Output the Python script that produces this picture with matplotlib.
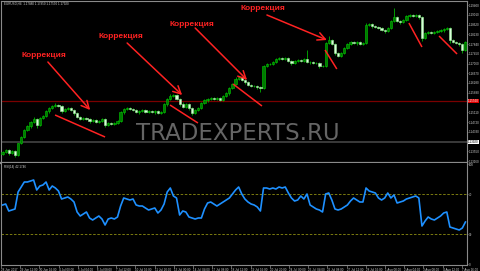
import matplotlib
matplotlib.use("Agg")
import matplotlib.pyplot as plt
import numpy as np

# ---------------- data ----------------
first_open = 1.1344
closes = [
    1.1352, 1.1360, 1.1348, 1.1356, 1.1340, 1.1388, 1.1412, 1.1440, 1.1456, 1.1472,
    1.1484, 1.1460, 1.1488, 1.1496, 1.1516, 1.1528, 1.1536, 1.1540, 1.1536, 1.1516,
    1.1524, 1.1528, 1.1520, 1.1508, 1.1492, 1.1484, 1.1488, 1.1484, 1.1476, 1.1480,
    1.1472, 1.1476, 1.1484, 1.1460, 1.1468, 1.1464, 1.1468, 1.1476, 1.1512, 1.1524,
    1.1528, 1.1524, 1.1520, 1.1512, 1.1516, 1.1520, 1.1512, 1.1516, 1.1512, 1.1516,
    1.1508, 1.1512, 1.1544, 1.1564, 1.1576, 1.1580, 1.1564, 1.1544, 1.1532, 1.1544,
    1.1528, 1.1508, 1.1520, 1.1528, 1.1548, 1.1560, 1.1564, 1.1568, 1.1564, 1.1568,
    1.1560, 1.1576, 1.1588, 1.1608, 1.1624, 1.1644, 1.1652, 1.1640, 1.1632, 1.1620,
    1.1616, 1.1616, 1.1612, 1.1608, 1.1696, 1.1704, 1.1704, 1.1712, 1.1724, 1.1728,
    1.1724, 1.1728, 1.1716, 1.1708, 1.1716, 1.1720, 1.1716, 1.1724, 1.1712, 1.1712,
    1.1708, 1.1708, 1.1696, 1.1696, 1.1788, 1.1800, 1.1784, 1.1748, 1.1736, 1.1748,
    1.1768, 1.1784, 1.1792, 1.1788, 1.1792, 1.1784, 1.1788, 1.1860, 1.1864, 1.1856,
    1.1852, 1.1848, 1.1840, 1.1836, 1.1848, 1.1876, 1.1892, 1.1876, 1.1872, 1.1880,
    1.1896, 1.1900, 1.1896, 1.1900, 1.1892, 1.1808, 1.1828, 1.1832, 1.1828, 1.1832,
    1.1836, 1.1840, 1.1844, 1.1848, 1.1800, 1.1792, 1.1788, 1.1784, 1.1760, 1.1792,
]
# wick lengths in pips above/below the body
wick_up = [
    4, 6, 3, 5, 4, 2, 6, 3, 5, 4,
    7, 3, 5, 4, 6, 3, 5, 8, 4, 3,
    5, 4, 6, 3, 4, 5, 3, 6, 4, 5,
    3, 4, 6, 5, 3, 4, 5, 3, 6, 4,
    5, 3, 4, 6, 3, 5, 4, 3, 5, 4,
    3, 6, 5, 4, 7, 5, 4, 3, 8, 5,
    4, 3, 5, 4, 6, 3, 5, 4, 3, 5,
    4, 6, 3, 5, 4, 7, 5, 3, 4, 5,
    3, 4, 5, 3, 6, 4, 5, 3, 4, 6,
    5, 3, 4, 5, 3, 4, 6, 5, 36, 3,
    4, 5, 3, 4, 6, 16, 5, 4, 3, 5,
    4, 3, 5, 6, 4, 3, 5, 7, 4, 3,
    5, 4, 3, 6, 4, 5, 36, 4, 3, 5,
    4, 6, 3, 5, 4, 3, 5, 4, 6, 3,
    4, 5, 3, 6, 4, 3, 5, 4, 3, 5,
]
wick_dn = [
    5, 3, 6, 4, 8, 2, 4, 5, 3, 6,
    4, 12, 3, 5, 4, 6, 3, 4, 5, 8,
    4, 5, 3, 6, 4, 3, 5, 4, 6, 3,
    5, 4, 3, 8, 4, 5, 3, 4, 5, 6,
    3, 4, 5, 3, 6, 4, 3, 5, 4, 6,
    5, 4, 3, 6, 4, 5, 3, 6, 5, 4,
    8, 6, 4, 5, 3, 4, 6, 3, 5, 4,
    3, 5, 4, 6, 3, 4, 5, 4, 6, 3,
    5, 4, 6, 16, 4, 5, 3, 4, 5, 3,
    4, 5, 3, 6, 4, 5, 3, 4, 5, 6,
    3, 4, 6, 5, 4, 3, 5, 6, 4, 5,
    3, 4, 5, 3, 6, 4, 5, 3, 4, 6,
    4, 5, 3, 6, 4, 5, 3, 4, 6, 5,
    3, 4, 5, 3, 6, 12, 4, 5, 3, 4,
    5, 3, 6, 4, 12, 5, 4, 6, 12, 4,
]
rsi = [
    59, 60, 53, 54, 55, 72, 77, 82, 82, 83,
    84, 74, 78, 79, 82, 74, 78, 76, 73, 65,
    66, 67, 65, 62, 52, 48, 50, 52, 46, 44,
    46, 48, 45, 39, 45, 46, 45, 47, 58, 66,
    65, 64, 65, 59, 58, 58, 56, 54, 55, 56,
    51, 54, 60, 72, 76, 68, 66, 49, 53, 52,
    47, 46, 45, 46, 46, 55, 61, 62, 60, 58,
    60, 62, 64, 66, 70, 74, 77, 70, 65, 62,
    60, 59, 57, 53, 76, 76, 75, 76, 75, 77,
    76, 77, 71, 66, 63, 64, 68, 65, 70, 59,
    57, 55, 54, 52, 70, 71, 64, 55, 54, 55,
    57, 59, 63, 66, 64, 62, 62, 76, 73, 72,
    71, 66, 64, 66, 71, 66, 69, 61, 62, 63,
    65, 66, 67, 68, 66, 38, 43, 47, 45, 44,
    46, 48, 51, 52, 37, 36, 35, 34, 36, 42,
]
price_ticks = [1.19400, 1.19010, 1.18620, 1.18230, 1.17840, 1.17450, 1.17060,
               1.16670, 1.16280, 1.15890, 1.15110, 1.14720, 1.14330,
               1.13550, 1.13160]
red_level = 1.1556
bid_level = 1.1392
rsi_ticks = [0, 30, 70, 100]
rsi_levels = [30, 70]
x_labels = ["28 Jun 2017", "29 Jun 12:00", "30 Jun 16:00", "4 Jul 00:00", "5 Jul 04:00",
            "6 Jul 08:00", "7 Jul 12:00", "10 Jul 16:00", "11 Jul 20:00", "13 Jul 00:00",
            "14 Jul 04:00", "17 Jul 08:00", "18 Jul 12:00", "19 Jul 16:00", "20 Jul 20:00",
            "24 Jul 00:00", "25 Jul 04:00", "26 Jul 08:00", "27 Jul 12:00", "28 Jul 16:00",
            "1 Aug 00:00", "2 Aug 04:00", "3 Aug 08:00", "4 Aug 12:00", "7 Aug 16:00"]
label_step_bars = 6.18

# annotations (candle index, price)
note_text = "Коррекция"
note_pos = [(13.3, 1.1740), (38.1, 1.1812), (61.0, 1.1864), (83.8, 1.1928)]
arrow_from = [(14.6, 1.1712), (40.1, 1.1788), (62.0, 1.1848), (85.1, 1.1900)]
arrow_to = [(28.2, 1.1520), (57.8, 1.1580), (78.7, 1.1640), (104.4, 1.1800)]
trend_from = [(16.9, 1.1500), (53.9, 1.1540), (74.2, 1.1624), (103.8, 1.1760), (130.8, 1.1868), (140.5, 1.1816)]
trend_to = [(33.0, 1.1412), (62.9, 1.1468), (83.5, 1.1536), (107.6, 1.1684), (135.0, 1.1772), (146.3, 1.1744)]

# ---------------- figure ----------------
W, H = 480, 271
fig = plt.figure(figsize=(W / 100, H / 100), dpi=100, facecolor="black")


def rect(x0, y0, x1, y1):
    return [x0 / W, 1 - y1 / H, (x1 - x0) / W, (y1 - y0) / H]


ax = fig.add_axes(rect(1, 1, 467, 163))
ax2 = fig.add_axes(rect(1, 163, 467, 265))
GRAY = "#8a8a8a"
TXT = "#cfcfcf"
FS = 2.2
FONT = "Liberation Sans"

for a in (ax, ax2):
    a.set_facecolor("black")
    for s in a.spines.values():
        s.set_color(GRAY)
        s.set_linewidth(0.8)
ax.spines["bottom"].set_linewidth(1.6)
ax2.spines["top"].set_visible(False)

n = len(closes)
idx = np.arange(n)
c = np.array(closes)
o = np.concatenate([[first_open], c[:-1]])
hi = np.maximum(o, c) + np.array(wick_up) * 0.0001
lo = np.minimum(o, c) - np.array(wick_dn) * 0.0001
bull = c >= o

ax.vlines(idx, lo, hi, color="#00b400", lw=0.6, zorder=2)
body_h = np.maximum(np.abs(c - o), 0.00012)
ax.bar(idx[bull], body_h[bull], bottom=np.minimum(o, c)[bull], width=0.72,
       color="#007a00", edgecolor="#00c800", linewidth=0.4, zorder=3)
ax.bar(idx[~bull], body_h[~bull], bottom=np.minimum(o, c)[~bull], width=0.72,
       color="#d8ffd8", edgecolor="#a0f0a0", linewidth=0.4, zorder=3)

ax.set_xlim(-0.5, n - 0.5)
ax.set_ylim(1.1960 - 0.0004 * 163, 1.1960 - 0.0004 * 1)

ax.axhline(red_level, color="#7a0000", lw=0.9, zorder=1)
ax.axhline(bid_level, color="#3a3a3a", lw=1.4, zorder=1)

ax.text(0.509, 0.18, "TRADEXPERTS.RU", transform=ax.transAxes, ha="center", va="center",
        fontsize=16.5, color="#656565", family="DejaVu Sans", zorder=0)

# annotations
for (x0, y0), (x1, y1) in zip(arrow_from, arrow_to):
    ax.annotate("", xy=(x1, y1), xytext=(x0, y0),
                arrowprops=dict(arrowstyle="->,head_length=0.55,head_width=0.28",
                                color="#ff2222", lw=1.1, shrinkA=0, shrinkB=0), zorder=5)
for (x0, y0), (x1, y1) in zip(trend_from, trend_to):
    ax.plot([x0, x1], [y0, y1], color="#ff2222", lw=1.1, zorder=5, solid_capstyle="butt")
for (x0, y0) in note_pos:
    ax.text(x0, y0, note_text, color="#ff2222", fontsize=6, fontweight="bold",
            family=FONT, ha="center", va="center", zorder=6)

# right price axis
ax.yaxis.tick_right()
ax.set_yticks(price_ticks)
ax.set_yticklabels([f"{p:.5f}" for p in price_ticks], family=FONT)
ax.tick_params(axis="y", labelsize=FS, colors=TXT, length=1.0, width=0.5, pad=0.5)
ax.tick_params(axis="y", color=GRAY)
ax.set_xticks([])
tr = ax.get_yaxis_transform()
ax.text(1.0025, red_level, f"{red_level:.5f}", transform=tr, fontsize=FS, color="white", family=FONT,
        va="center", ha="left", bbox=dict(boxstyle="square,pad=0.15", fc="#e00000", ec="none"))
ax.text(1.0025, bid_level, f"{bid_level:.5f}", transform=tr, fontsize=FS, color="black", family=FONT,
        va="center", ha="left", bbox=dict(boxstyle="square,pad=0.15", fc="white", ec="none"))

# RSI panel
ax2.plot(idx, rsi, color="#1e90ff", lw=1.2, zorder=3)
for lv in rsi_levels:
    ax2.axhline(lv, color="#8f8f12", lw=0.6, ls=(0, (3, 2)), zorder=1)
ax2.set_xlim(-0.5, n - 0.5)
ax2.set_ylim(-1, 101)
ax2.yaxis.tick_right()
ax2.set_yticks(rsi_ticks)
ax2.set_yticklabels([str(t) for t in rsi_ticks], family=FONT)
ax2.tick_params(axis="y", labelsize=FS, colors=TXT, length=1.0, width=0.5, pad=0.5)
ax2.tick_params(axis="y", color=GRAY)
xt = np.arange(len(x_labels)) * label_step_bars - 0.5
ax2.set_xticks(xt)
ax2.set_xticklabels(x_labels, ha="left", family=FONT)
ax2.tick_params(axis="x", labelsize=FS, colors=TXT, length=2, width=0.5, pad=0.4, direction="out")
ax2.tick_params(axis="x", color=GRAY)

# titles
fig.text(4 / W, 1 - 4 / H, "EURUSD,H4  1.17880 1.17950 1.17590 1.17920", fontsize=FS,
         color=TXT, va="center", ha="left", family=FONT)
fig.text(4 / W, 1 - 167 / H, "RSI(14) 42.1746", fontsize=FS, color=TXT, va="center", ha="left",
         family=FONT)

fig.savefig("out.png", dpi=100, facecolor="black")
